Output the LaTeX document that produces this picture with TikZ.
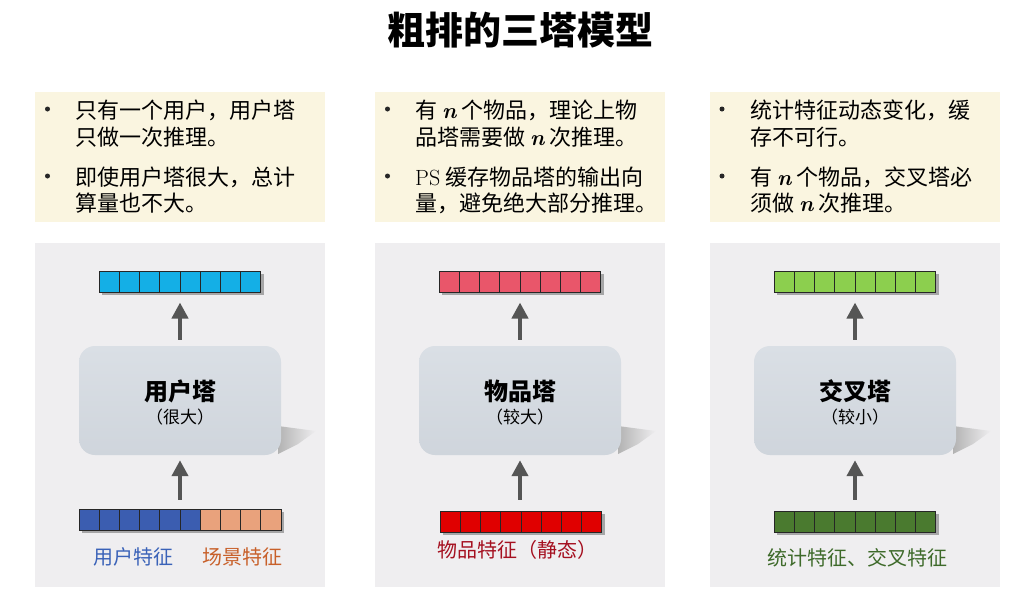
\documentclass[tikz,border=0pt]{standalone}
\usepackage{fontspec}
\newfontfamily\cjk{Noto Sans CJK SC}
\usetikzlibrary{arrows.meta,shadows,calc}
\definecolor{beige}{HTML}{FAF5E0}
\definecolor{panel}{HTML}{EFEEF0}
\definecolor{towtop}{HTML}{DADFE5}
\definecolor{towbot}{HTML}{CFD5DC}
\definecolor{arrgray}{HTML}{555555}
\definecolor{ucyan}{HTML}{14AFE6}
\definecolor{upink}{HTML}{E9566A}
\definecolor{ulime}{HTML}{8CCF4E}
\definecolor{ublue}{HTML}{3B5DB0}
\definecolor{uorange}{HTML}{E9A27C}
\definecolor{ured}{HTML}{E00000}
\definecolor{ugreen}{HTML}{4A7A2F}
\definecolor{lblue}{HTML}{3A62B8}
\definecolor{lorange}{HTML}{C8602A}
\definecolor{lred}{HTML}{A51020}
\definecolor{lgreen}{HTML}{3E6A2A}
\newcommand\nv{{\rmfamily\bfseries\itshape n}}
\tikzset{
  notebox/.style={fill=beige, draw=none, minimum width=290pt, minimum height=130pt, inner sep=0pt},
  panelbox/.style={fill=panel, draw=none, minimum width=290pt, minimum height=344pt, inner sep=0pt},
  tower/.style={rounded corners=16pt, top color=towtop, bottom color=towbot, draw=none,
     minimum width=202pt, minimum height=109pt, inner sep=0pt},
  towshadow/.style={left color=black!30, right color=panel, draw=none},
  vecbox/.style={draw=black!85, line width=1pt, minimum height=21pt, inner sep=0pt,
     drop shadow={shadow xshift=3pt, shadow yshift=-3pt, opacity=0.3, fill=black}},
  cell/.style={draw=black!85, line width=1pt, minimum width=20.2pt, minimum height=21pt, inner sep=0pt, outer sep=0pt},
  arr/.style={draw=arrgray, line width=4pt, -{Triangle[length=16pt,width=16pt]}},
  bl/.style={font=\cjk\fontsize{22}{27}\selectfont, anchor=base west, inner sep=0pt},
  bul/.style={circle, fill=black!85, minimum size=5pt, inner sep=0pt},
  ttitle/.style={font=\cjk\bfseries\fontsize{24}{28}\selectfont},
  tsub/.style={font=\cjk\fontsize{17}{20}\selectfont},
  lab/.style={font=\cjk\fontsize{20}{24}\selectfont},
}
\begin{document}
\begin{tikzpicture}[x=1pt,y=-1pt]
\useasboundingbox[fill=white] (0,0) rectangle (1033,590);
% title
\node[font=\cjk\bfseries\fontsize{38}{42}\selectfont] (title) at (520,30) {粗排的三塔模型};
% note boxes
\node[notebox] (n1) at (180,157) {};
\node[notebox] (n2) at (520,157) {};
\node[notebox] (n3) at (855,157) {};
% panels
\node[panelbox] (p1) at (180,415) {};
\node[panelbox] (p2) at (520,415) {};
\node[panelbox] (p3) at (855,415) {};
% notes left
\node[bul] (b1a) at (47.5,109) {};
\node[bul] (b1b) at (47.5,176) {};
\node[bl] (t1a) at (75,118.4) {只有一个用户，用户塔};
\node[bl] (t1b) at (75,145.4) {只做一次推理。};
\node[bl] (t1c) at (75,185.4) {即使用户塔很大，总计};
\node[bl] (t1d) at (75,211.4) {算量也不大。};
% notes middle
\node[bul] (b2a) at (387.5,109) {};
\node[bul] (b2b) at (387.5,176) {};
\node[bl] (t2a) at (415,118.4) {有 \nv\ 个物品，理论上物};
\node[bl] (t2b) at (415,145.4) {品塔需要做 \nv\ 次推理。};
\node[bl] (t2c) at (415,185.4) {{\rmfamily PS} 缓存物品塔的输出向};
\node[bl] (t2d) at (415,211.4) {量，避免绝大部分推理。};
% notes right
\node[bul] (b3a) at (722,109) {};
\node[bul] (b3b) at (722,176) {};
\node[bl] (t3a) at (750,118.4) {统计特征动态变化，缓};
\node[bl] (t3b) at (750,145.4) {存不可行。};
\node[bl] (t3c) at (750,185.4) {有 \nv\ 个物品，交叉塔必};
\node[bl] (t3d) at (750,211.4) {须做 \nv\ 次推理。};
% tower shadows
\foreach \cx in {180,520,855} {
  \shade[towshadow] ({\cx+98},426) -- ({\cx+136},431) -- ({\cx+118},444) -- ({\cx+98},454) -- cycle;
}
% towers
\node[tower] (tw1) at (180,400.5) {};
\node[tower] (tw2) at (520,400.5) {};
\node[tower] (tw3) at (855,400.5) {};
\node[ttitle] (tw1t) at (180,391) {用户塔};
\node[tsub] (tw1s) at (180,417) {（很大）};
\node[ttitle] (tw2t) at (520,391) {物品塔};
\node[tsub] (tw2s) at (520,417) {（较大）};
\node[ttitle] (tw3t) at (855,391) {交叉塔};
\node[tsub] (tw3s) at (855,417) {（较小）};
% top vectors
\node[vecbox, minimum width=161.6pt] (v1t) at (180,281.5) {};
\node[vecbox, minimum width=161.6pt] (v2t) at (520,281.5) {};
\node[vecbox, minimum width=161.6pt] (v3t) at (855,281.5) {};
\foreach \i in {0,...,7} {
  \node[cell, fill=ucyan] (c1t\i) at ({180-80.8+10.1+\i*20.2},281.5) {};
  \node[cell, fill=upink] (c2t\i) at ({520-80.8+10.1+\i*20.2},281.5) {};
  \node[cell, fill=ulime] (c3t\i) at ({855-80.8+10.1+\i*20.2},281.5) {};
}
% bottom vectors
\node[vecbox, minimum width=202pt] (v1b) at (180,519.5) {};
\node[vecbox, minimum width=161.6pt] (v2b) at (521,521.5) {};
\node[vecbox, minimum width=161.6pt] (v3b) at (855,521.5) {};
\foreach \i in {0,...,5} \node[cell, fill=ublue] (c1b\i) at ({180-101+10.1+\i*20.2},519.5) {};
\foreach \i in {6,...,9} \node[cell, fill=uorange] (c1b\i) at ({180-101+10.1+\i*20.2},519.5) {};
\foreach \i in {0,...,7} {
  \node[cell, fill=ured] (c2b\i) at ({521-80.8+10.1+\i*20.2},521.5) {};
  \node[cell, fill=ugreen] (c3b\i) at ({855-80.8+10.1+\i*20.2},521.5) {};
}
% arrows
\draw[arr, shorten <=9pt, shorten >=5pt] (v1b.north -| tw1.south) -- (tw1.south);
\draw[arr, shorten <=6pt, shorten >=10pt] (tw1.north) -- (v1t.south);
\draw[arr, shorten <=11pt, shorten >=5pt] (v2b.north -| tw2.south) -- (tw2.south);
\draw[arr, shorten <=6pt, shorten >=10pt] (tw2.north) -- (v2t.south);
\draw[arr, shorten <=11pt, shorten >=5pt] (v3b.north -| tw3.south) -- (tw3.south);
\draw[arr, shorten <=6pt, shorten >=10pt] (tw3.north) -- (v3t.south);
% labels
\node[lab, text=lblue] (l1a) at (133,557) {用户特征};
\node[lab, text=lorange] (l1b) at (242,557) {场景特征};
\node[lab, text=lred] (l2) at (517,550) {物品特征（静态）};
\node[lab, text=lgreen] (l3) at (857,558) {统计特征、交叉特征};
\end{tikzpicture}
\end{document}
